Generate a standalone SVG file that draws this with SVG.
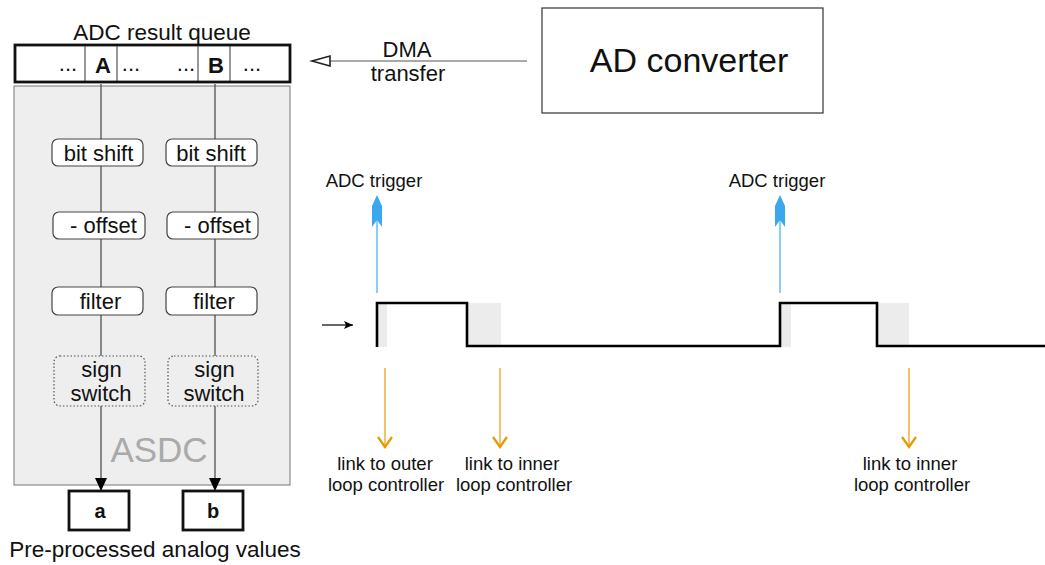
<svg xmlns="http://www.w3.org/2000/svg" width="1045" height="565" viewBox="0 0 1045 565">
  <style>
    text { font-family: "Liberation Sans", Arial, sans-serif; fill: #111; }
    .t22 { font-size: 22px; }
    .lbl { font-size: 18.5px; text-anchor: middle; }
    .mid { text-anchor: middle; }
    .bold { font-weight: bold; }
    .step { fill: #ffffff; stroke: #444; stroke-width: 1.2; }
    .dotted { fill: none; stroke: #555; stroke-width: 1.2; stroke-dasharray: 1.5 2; }
    .flow { stroke: #444; stroke-width: 1.2; fill: none; }
    .thick { fill: #ffffff; stroke: #111; stroke-width: 2.8; }
    .sig { fill: none; stroke: #000; stroke-width: 2.6; stroke-linejoin: miter; }
    .shade { fill: #ececec; }
    .trig { stroke: #6cc2f7; stroke-width: 1.6; }
    .trighead { fill: #3aa8ee; }
    .link { stroke: #f0b548; stroke-width: 1.6; }
    .linkhead { fill: none; stroke: #e69a00; stroke-width: 2.2; }
  </style>
  <defs>
    <marker id="flowArrow" markerWidth="14" markerHeight="12" refX="13" refY="6" orient="auto" markerUnits="userSpaceOnUse">
      <path d="M0,0 L13,6 L0,12 Z" fill="#000"/>
    </marker>
    <marker id="smallArrow" markerWidth="10" markerHeight="8" refX="9" refY="4" orient="auto" markerUnits="userSpaceOnUse">
      <path d="M0,0 L9,4 L0,8 L2,4 Z" fill="#000"/>
    </marker>
    <marker id="openTri" markerWidth="22" markerHeight="14" refX="19" refY="7" orient="auto" markerUnits="userSpaceOnUse">
      <path d="M1,2 L19,7 L1,12 Z" fill="#fff" stroke="#222" stroke-width="1.6"/>
    </marker>
  </defs>

  <!-- ASDC processing block -->
  <g id="asdc">
    <rect x="14" y="86" width="276" height="399" fill="#eeeeee" stroke="#777" stroke-width="1"/>
    <text x="159" y="462" class="mid" style="font-size:35px; fill:#aaaaaa;">ASDC</text>
  </g>

  <!-- connectors -->
  <g id="connectors">
    <line class="flow" x1="101" y1="84" x2="101" y2="491" marker-end="url(#flowArrow)"/>
    <line class="flow" x1="215" y1="84" x2="215" y2="491" marker-end="url(#flowArrow)"/>
    <line x1="527" y1="61" x2="312" y2="61" stroke="#555" stroke-width="1.2" marker-end="url(#openTri)"/>
    <line x1="322" y1="325" x2="353" y2="325" stroke="#000" stroke-width="1.2" marker-end="url(#smallArrow)"/>
  </g>

  <!-- ADC result queue -->
  <g id="queue">
    <text x="162" y="40" class="mid" style="font-size:22.5px;">ADC result queue</text>
    <rect class="thick" x="15" y="45" width="275" height="37"/>
    <line x1="85" y1="46" x2="85" y2="81" stroke="#333" stroke-width="1"/>
    <line x1="117" y1="46" x2="117" y2="81" stroke="#333" stroke-width="1"/>
    <line x1="198" y1="46" x2="198" y2="81" stroke="#333" stroke-width="1"/>
    <line x1="230" y1="46" x2="230" y2="81" stroke="#333" stroke-width="1"/>
    <text x="68" y="71" class="t22 mid">...</text>
    <text x="103" y="73" class="t22 mid bold">A</text>
    <text x="131" y="71" class="t22 mid">...</text>
    <text x="186" y="71" class="t22 mid">...</text>
    <text x="216" y="73" class="t22 mid bold">B</text>
    <text x="252" y="71" class="t22 mid">...</text>
  </g>

  <!-- channel A steps -->
  <g id="bitshift-a">
    <rect class="step" x="52" y="139" width="91" height="27" rx="6"/>
    <text x="98.5" y="161" class="t22 mid">bit shift</text>
  </g>
  <g id="offset-a">
    <rect class="step" x="53" y="212" width="92" height="27" rx="6"/>
    <text x="103.5" y="233" class="t22 mid">- offset</text>
  </g>
  <g id="filter-a">
    <rect class="step" x="52" y="287" width="91" height="28" rx="6"/>
    <text x="100.5" y="309" class="t22 mid">filter</text>
  </g>
  <g id="signswitch-a">
    <rect x="54" y="356" width="91" height="50" rx="6" fill="#eeeeee"/>
    <rect class="dotted" x="54" y="356" width="91" height="50" rx="6"/>
    <text x="101.5" y="377" class="t22 mid">sign</text>
    <text x="101" y="401" class="t22 mid">switch</text>
  </g>

  <!-- channel B steps -->
  <g id="bitshift-b">
    <rect class="step" x="166" y="139" width="91" height="27" rx="6"/>
    <text x="211" y="161" class="t22 mid">bit shift</text>
  </g>
  <g id="offset-b">
    <rect class="step" x="167" y="212" width="91" height="27" rx="6"/>
    <text x="217.5" y="233" class="t22 mid">- offset</text>
  </g>
  <g id="filter-b">
    <rect class="step" x="166" y="287" width="91" height="28" rx="6"/>
    <text x="214" y="309" class="t22 mid">filter</text>
  </g>
  <g id="signswitch-b">
    <rect x="168" y="356" width="90" height="50" rx="6" fill="#eeeeee"/>
    <rect class="dotted" x="168" y="356" width="90" height="50" rx="6"/>
    <text x="214.5" y="377" class="t22 mid">sign</text>
    <text x="214" y="401" class="t22 mid">switch</text>
  </g>

  <!-- outputs -->
  <g id="out-a">
    <rect class="thick" x="69" y="491" width="60" height="39"/>
    <text x="100" y="518" class="mid bold" style="font-size:20px;">a</text>
  </g>
  <g id="out-b">
    <rect class="thick" x="183" y="491" width="60" height="39"/>
    <text x="213" y="518" class="mid bold" style="font-size:20px;">b</text>
  </g>
  <text x="155" y="557" class="mid" style="font-size:22.5px;">Pre-processed analog values</text>

  <!-- DMA label -->
  <text x="407" y="57" class="t22 mid">DMA</text>
  <text x="408" y="81" class="t22 mid">transfer</text>

  <!-- AD converter -->
  <g id="ad-converter">
    <rect x="542" y="8" width="281" height="105" fill="#fff" stroke="#333" stroke-width="1.2"/>
    <text x="689" y="72" class="mid" style="font-size:34px;">AD converter</text>
  </g>

  <!-- timing signal -->
  <g id="timing">
    <rect class="shade" x="377" y="303" width="10" height="44"/>
    <rect class="shade" x="467" y="303" width="34" height="44"/>
    <rect class="shade" x="780" y="303" width="11" height="44"/>
    <rect class="shade" x="877" y="303" width="32" height="44"/>
    <path class="sig" d="M377,347 V303 H467 V346 H780 V303 H877 V346 H1045"/>
  </g>

  <!-- ADC triggers -->
  <g id="trigger-1">
    <line class="trig" x1="377" y1="293" x2="377" y2="218"/>
    <polygon class="trighead" points="377,195 382,206 382,227 377,220 372,227 372,206"/>
    <text x="374" y="187" class="lbl">ADC trigger</text>
  </g>
  <g id="trigger-2">
    <line class="trig" x1="780" y1="293" x2="780" y2="218"/>
    <polygon class="trighead" points="780,195 785,206 785,227 780,220 775,227 775,206"/>
    <text x="777" y="187" class="lbl">ADC trigger</text>
  </g>

  <!-- controller links -->
  <g id="link-outer">
    <line class="link" x1="385" y1="368" x2="385" y2="447"/>
    <polyline class="linkhead" points="378,437 385,447 392,437"/>
    <text x="385" y="470" class="lbl">link to outer</text>
    <text x="386" y="491" class="lbl">loop controller</text>
  </g>
  <g id="link-inner-1">
    <line class="link" x1="500" y1="368" x2="500" y2="447"/>
    <polyline class="linkhead" points="493,437 500,447 507,437"/>
    <text x="512" y="470" class="lbl">link to inner</text>
    <text x="514" y="491" class="lbl">loop controller</text>
  </g>
  <g id="link-inner-2">
    <line class="link" x1="909" y1="368" x2="909" y2="447"/>
    <polyline class="linkhead" points="902,437 909,447 916,437"/>
    <text x="910" y="470" class="lbl">link to inner</text>
    <text x="912" y="491" class="lbl">loop controller</text>
  </g>
</svg>
